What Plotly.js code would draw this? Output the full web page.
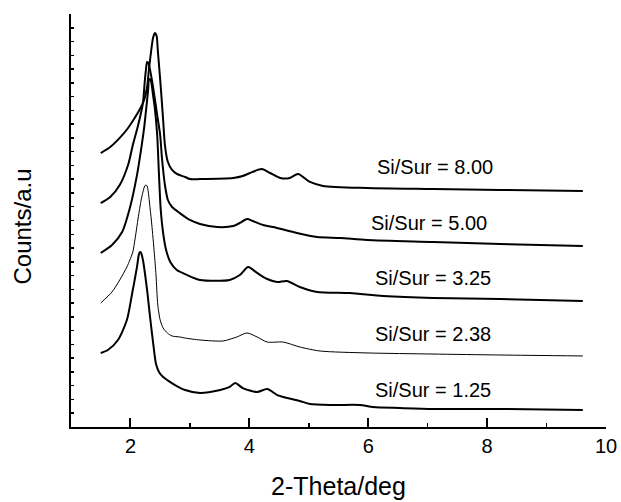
<!DOCTYPE html>
<html>
<head>
<meta charset="utf-8">
<script src="https://cdn.plot.ly/plotly-3.0.1.min.js"></script>
<style>html,body{margin:0;padding:0;background:#fff;}#chart{width:621px;height:502px;}</style>
</head>
<body>
<div id="chart"></div>
<script>
// 2-Theta (deg) and intensity (a.u., stacked) for each Si/Sur ratio
const seriesLabels = ["Si/Sur = 8.00", "Si/Sur = 5.00", "Si/Sur = 3.25", "Si/Sur = 2.38", "Si/Sur = 1.25"];

const x800 = [1.50,1.66,1.82,1.96,2.06,2.16,2.23,2.28,2.31,2.35,2.38,2.41,2.44,2.46,2.51,2.55,2.58,2.63,2.70,2.78,2.92,3.00,3.17,3.73,3.89,4.01,4.21,4.35,4.52,4.68,4.82,5.02,5.24,5.98,7.09,8.22,9.61];
const y800 = [199.0,203.4,210.0,217.2,223.7,231.0,237.5,247.0,259.3,273.8,282.6,286.2,284.0,273.8,247.0,223.0,204.8,192.5,186.7,183.8,181.6,180.1,180.1,180.9,182.3,184.5,187.4,184.5,180.9,180.9,183.8,178.0,175.1,173.6,172.9,172.2,171.4];

const x500 = [1.50,1.66,1.82,1.96,2.04,2.13,2.21,2.24,2.26,2.28,2.30,2.33,2.38,2.45,2.50,2.53,2.58,2.63,2.70,2.83,3.00,3.17,3.46,3.73,3.84,3.96,4.06,4.23,4.40,4.80,5.14,5.53,5.98,7.09,8.22,9.61];
const y500 = [162.7,167.1,175.8,190.3,204.8,219.4,235.3,250.6,259.3,265.1,264.4,259.3,247.0,226.6,212.1,195.4,175.8,164.9,159.8,155.4,150.4,147.5,145.3,146.0,148.2,151.1,149.6,146.7,145.3,140.9,138.0,137.3,135.8,134.4,132.9,131.5];

const x325 = [1.50,1.69,1.86,1.99,2.11,2.19,2.23,2.28,2.30,2.31,2.33,2.35,2.38,2.41,2.45,2.48,2.51,2.55,2.60,2.67,2.78,2.92,3.17,3.67,3.84,3.98,4.13,4.30,4.47,4.63,4.85,5.14,5.69,6.25,7.09,8.22,9.61];
const y325 = [126.4,132.2,141.6,159.1,183.0,204.8,217.2,237.5,246.2,252.1,252.8,250.6,241.2,231.7,212.1,183.0,157.6,140.9,128.6,119.9,114.0,111.1,106.8,106.8,110.4,116.2,111.9,107.5,105.3,106.1,101.7,98.1,97.3,95.2,93.7,93.0,91.5];

const x238 = [1.50,1.69,1.82,1.94,1.99,2.04,2.08,2.13,2.18,2.21,2.24,2.26,2.28,2.30,2.33,2.36,2.40,2.43,2.46,2.50,2.55,2.62,2.70,2.83,2.92,3.17,3.56,3.79,3.96,4.13,4.30,4.57,4.85,5.19,5.98,7.09,8.22,9.61];
const y238 = [90.1,98.1,106.8,116.2,121.3,127.1,137.3,151.8,164.9,170.7,175.1,175.8,175.1,170.7,159.1,146.7,127.1,110.4,88.6,77.7,71.9,68.3,66.1,65.4,64.6,63.2,62.5,65.4,68.3,65.4,61.7,61.7,58.1,55.2,53.8,53.0,52.3,51.6];

const x125 = [1.50,1.62,1.79,1.94,2.03,2.11,2.14,2.16,2.18,2.21,2.28,2.33,2.40,2.43,2.48,2.55,2.62,2.75,2.92,3.17,3.51,3.67,3.76,3.89,4.13,4.30,4.47,4.57,4.85,5.02,5.41,5.86,6.08,6.53,7.09,8.22,9.61];
const y125 = [53.8,55.9,63.2,77.7,97.3,116.2,124.9,127.1,126.4,121.3,99.5,79.9,54.5,45.8,40.0,36.3,34.1,30.5,26.9,24.7,26.9,29.1,32.0,28.3,25.4,27.6,23.2,21.8,18.9,16.7,16.0,16.0,14.5,13.8,13.1,13.1,12.3];

const xTicks = [2, 4, 6, 8, 10];
const xTickText = ["2", "4", "6", "8", "10"];
const xTitle = "2-Theta/deg";
const yTitle = "Counts/a.u";

const FONT = "Arial, 'Liberation Sans', Helvetica, sans-serif";

const xs = [x800, x500, x325, x238, x125];
const ys = [y800, y500, y325, y238, y125];
const widths = [2, 2, 2, 1, 2];

const traces = xs.map((xv, i) => ({
  x: xv, y: ys[i], type: "scatter", mode: "lines", name: seriesLabels[i],
  line: {color: "#000", width: widths[i], shape: "spline", smoothing: 0.7},
  hoverinfo: "skip"
}));

const labelXs = [7.12, 7.02, 7.09, 7.09, 7.09];
const labelYs = [188.9, 148.2, 108.2, 67.6, 26.9];
const annotations = seriesLabels.map((t, i) => ({
  x: labelXs[i], y: labelYs[i], xref: "x", yref: "y", text: t, showarrow: false,
  font: {family: FONT, size: 20, color: "#000"}, xanchor: "center", yanchor: "middle"
}));
// y-axis title, placed as rotated text left of the axis
annotations.push({
  x: -0.09, y: 0.485, xref: "paper", yref: "paper", text: yTitle, showarrow: false,
  textangle: -90, xanchor: "center", yanchor: "middle",
  font: {family: FONT, size: 24, color: "#000"}
});

const layout = {
  width: 621, height: 502,
  margin: {l: 71, r: 15, t: 14, b: 75},
  paper_bgcolor: "#fff", plot_bgcolor: "#fff",
  showlegend: false,
  font: {family: FONT, color: "#000"},
  xaxis: {
    range: [1, 10], showgrid: false, zeroline: false,
    showline: true, linecolor: "#000", linewidth: 2,
    ticks: "inside", ticklen: 9, tickwidth: 2, tickcolor: "#000",
    tickvals: xTicks, ticktext: xTickText,
    tickfont: {family: FONT, size: 20, color: "#000"},
    minor: {tickvals: [3, 5, 7, 9], ticks: "inside", ticklen: 4, tickwidth: 1.5, tickcolor: "#000"},
    title: {text: xTitle, font: {family: FONT, size: 25, color: "#000"}, standoff: 21}
  },
  yaxis: {
    range: [0, 300], showgrid: false, zeroline: false,
    showline: true, linecolor: "#000", linewidth: 2,
    ticks: "inside", ticklen: 3, tickwidth: 1.5, tickcolor: "#000", dtick: 10, tick0: 0,
    showticklabels: false
  },
  annotations: annotations
};

Plotly.newPlot("chart", traces, layout, {displayModeBar: false, staticPlot: true});
</script>
</body>
</html>
